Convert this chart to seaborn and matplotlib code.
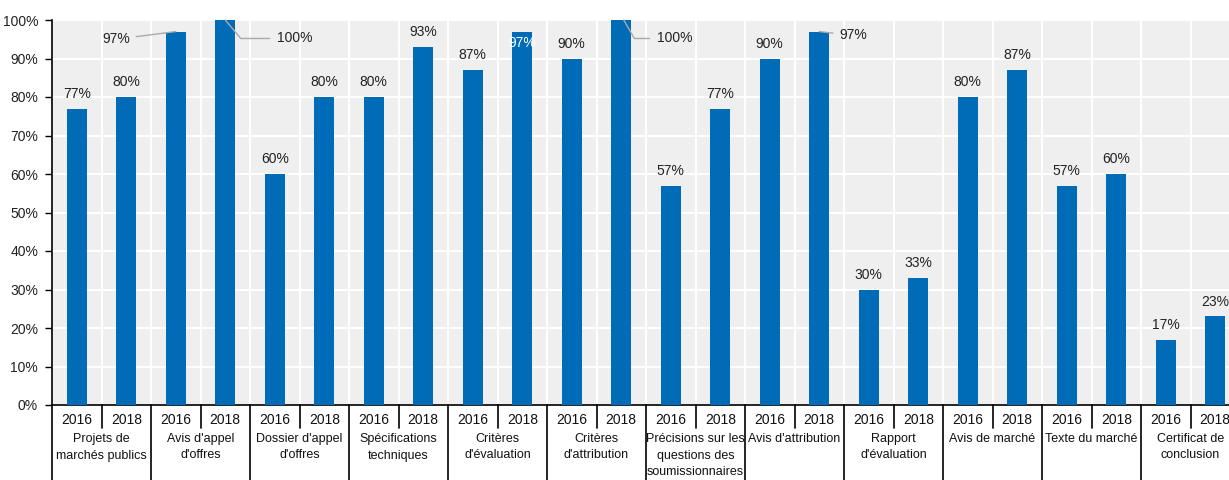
import matplotlib
matplotlib.use("Agg")
import matplotlib.pyplot as plt
import seaborn as sns
import pandas as pd
import numpy as np
from matplotlib.lines import Line2D

groups = ["Projets de\nmarchés publics", "Avis d'appel\nd'offres", "Dossier d'appel\nd'offres",
          "Spécifications\ntechniques", "Critères\nd'évaluation", "Critères\nd'attribution",
          "Précisions sur les\nquestions des\nsoumissionnaires", "Avis d'attribution",
          "Rapport\nd'évaluation", "Avis de marché", "Texte du marché", "Certificat de\nconclusion"]
years = ["2016", "2018"]
v2016 = [77, 97, 60, 80, 87, 90, 57, 90, 30, 80, 57, 17]
v2018 = [80, 100, 80, 93, 97, 100, 77, 97, 33, 87, 60, 23]

rows = []
for g, a, b in zip(groups, v2016, v2018):
    rows.append((g, "2016", a))
    rows.append((g, "2018", b))
df = pd.DataFrame(rows, columns=["group", "year", "value"])
df["slot"] = np.arange(len(df))

sns.set_style("white")
plt.rcParams['font.family'] = ['Liberation Sans', 'DejaVu Sans']

FS = 10
GFS = 9
W, H = 1229, 480
fig = plt.figure(figsize=(W / 100, H / 100), dpi=100)
ax_left, ax_right, ax_top, ax_bot = 52, 1240, 20, 405
ax = fig.add_axes([ax_left / W, 1 - ax_bot / H, (ax_right - ax_left) / W, (ax_bot - ax_top) / H])
ax.set_facecolor("#efefef")

blue = "#006BB6"
sns.barplot(data=df, x="slot", y="value", color=blue, width=0.4, ax=ax,
            native_scale=True, saturation=1, zorder=3, edgecolor="none")

n = len(df)
ax.set_xlim(-0.5, n - 0.5)
ax.set_ylim(0, 100)
ax.set_yticks(range(0, 101, 10))
ax.set_yticklabels([f"{t}%" for t in range(0, 101, 10)], fontsize=FS, color="#222222")
ax.tick_params(axis="y", direction="out", length=5, width=1, color="black", pad=5, left=True)

# grid
for yv in range(10, 101, 10):
    ax.axhline(yv, color="white", lw=1.5, zorder=1)
for xv in np.arange(0.5, n - 0.5, 1):
    ax.axvline(xv, color="white", lw=1.5, zorder=1)

for s in ["top", "right"]:
    ax.spines[s].set_visible(False)
ax.spines["left"].set_color("black")
ax.spines["bottom"].set_color("black")
ax.spines["left"].set_linewidth(1.2)
ax.spines["bottom"].set_linewidth(1.2)

ax.set_xticks(df["slot"])
ax.set_xticklabels(df["year"], fontsize=FS, color="#111111")
ax.tick_params(axis="x", length=0, pad=6)
ax.set_xlabel("")
ax.set_ylabel("")

axh = ax_bot - ax_top
def fy(py):
    return -(py - ax_bot) / axh

trans = ax.get_xaxis_transform()
# separators
for k in range(len(groups)):
    xs = 2 * k + 0.5
    ax.add_line(Line2D([xs, xs], [0, fy(428)], transform=trans, color="black", lw=1.2, clip_on=False))
for k in range(len(groups) + 1):
    xs = 2 * k - 0.5
    ax.add_line(Line2D([xs, xs], [0, fy(481)], transform=trans, color="black", lw=1.2, clip_on=False))
# group labels
for k, g in enumerate(groups):
    ax.text(2 * k + 0.5, fy(433), g, transform=trans, ha="center", va="top",
            fontsize=GFS, color="#111111", linespacing=1.5)

# value labels
special = {(1, "2016"), (1, "2018"), (4, "2018"), (5, "2018"), (7, "2018")}
for i, r in df.iterrows():
    k = i // 2
    if (k, r["year"]) in special:
        continue
    ax.text(r["slot"], r["value"] + 2, f"{r['value']}%", ha="center", va="bottom",
            fontsize=FS, color="#222222", zorder=5)

lc = "#aaaaaa"
# Avis d'appel d'offres 2016 (97) label to the left
ax.annotate(f"{v2016[1]}%", xy=(2, v2016[1]), xytext=(1.08, 95.0), ha="right", va="center",
            fontsize=FS, color="#222222", zorder=5,
            arrowprops=dict(arrowstyle="-", color=lc, lw=1, shrinkA=2, shrinkB=0))
# Avis d'appel d'offres 2018 (100) label to the right
ax.annotate(f"{v2018[1]}%", xy=(3.0, 100), xytext=(4.05, 95.2), ha="left", va="center",
            fontsize=FS, color="#222222", zorder=5, annotation_clip=False,
            arrowprops=dict(arrowstyle="-", color=lc, lw=1, shrinkA=3, shrinkB=0,
                            connectionstyle="angle,angleA=0,angleB=-50,rad=0"))
# Critères d'évaluation 2018 (97) inside bar, white
ax.text(9, 94, f"{v2018[4]}%", ha="center", va="center", fontsize=FS, color="white", zorder=5)
# Critères d'attribution 2018 (100)
ax.annotate(f"{v2018[5]}%", xy=(11.05, 100), xytext=(11.72, 95.2), ha="left", va="center",
            fontsize=FS, color="#222222", zorder=5, annotation_clip=False,
            arrowprops=dict(arrowstyle="-", color=lc, lw=1, shrinkA=3, shrinkB=0,
                            connectionstyle="angle,angleA=0,angleB=-60,rad=0"))
# Avis d'attribution 2018 (97)
ax.annotate(f"{v2018[7]}%", xy=(15.0, v2018[7]), xytext=(15.4, 96.0), ha="left", va="center",
            fontsize=FS, color="#222222", zorder=5,
            arrowprops=dict(arrowstyle="-", color=lc, lw=1, shrinkA=2, shrinkB=0))

fig.savefig("out.png", dpi=100)
